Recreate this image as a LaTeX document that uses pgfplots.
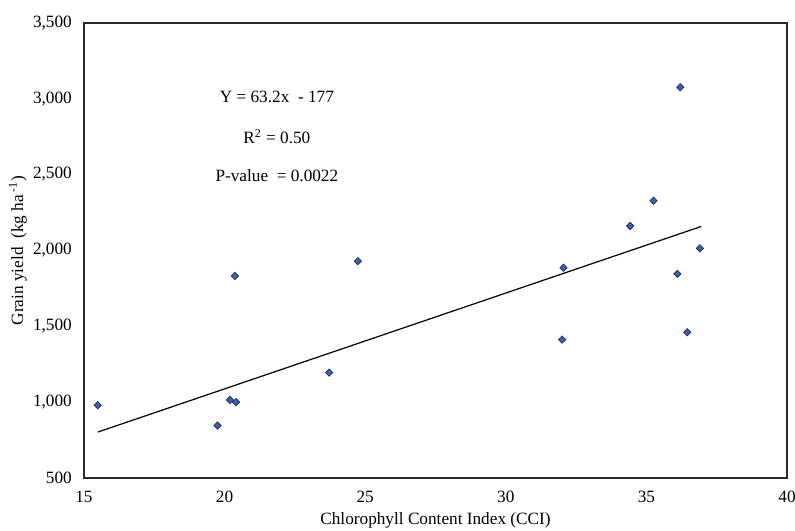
\documentclass[border=0pt]{standalone}
\usepackage{pgfplots}
\pgfplotsset{compat=1.18}
\usepackage{fontspec}
\setmainfont{Liberation Serif}
\definecolor{markfill}{RGB}{62,96,168}
\definecolor{markedge}{RGB}{28,44,90}
\definecolor{framegray}{RGB}{40,40,40}
\begin{document}
\begin{tikzpicture}
\begin{axis}[
  scale only axis,
  width=408pt, height=264pt,
  xmin=15, xmax=40, ymin=500, ymax=3500,
  xtick={15,20,...,40},
  ytick={500,1000,...,3500},
  /pgf/number format/assume math mode=true,
  /pgf/number format/1000 sep={,},
  major tick length=0pt,
  axis line style={framegray, line width=0.7pt},
  tick label style={font=\normalsize},
  xticklabel style={yshift=-4pt},
  yticklabel style={xshift=-3.5pt},
  xlabel={Chlorophyll Content Index (CCI)},
  ylabel={Grain yield\ \ (kg ha\textsuperscript{ -1})},
  xlabel style={yshift=0.8pt},
  ylabel style={yshift=-3.3pt},
]
% observations
\addplot[only marks, mark=square*, mark size=1.5pt,
  mark options={rotate=45, fill=markfill, draw=markedge, line width=0.4pt}]
  coordinates {
  (15.49,979) (19.75,845) (20.19,1014) (20.41,999) (20.37,1832)
  (23.72,1194) (24.74,1930) (32.05,1886) (32.00,1412) (34.42,2161)
  (35.25,2328) (36.20,3076) (36.10,1845) (36.45,1460) (36.90,2014)
  };
% fitted line Y = 63.2x - 177
\addplot[black, line width=0.7pt] coordinates {(15.5,802.6) (36.95,2158.2)};
\node[font=\normalsize] at (axis cs:21.86,3012) {Y = 63.2x\ \ - 177};
\node[font=\normalsize] at (axis cs:21.86,2748) {R\textsuperscript{2} = 0.50};
\node[font=\normalsize] at (axis cs:21.86,2491) {P-value\ \ = 0.0022};
\end{axis}
\pgfresetboundingbox
\useasboundingbox ([xshift=-48.7pt,yshift=-30.7pt]current axis.south west)
  rectangle ([xshift=4.6pt,yshift=13.3pt]current axis.north east);
\end{tikzpicture}
\end{document}
